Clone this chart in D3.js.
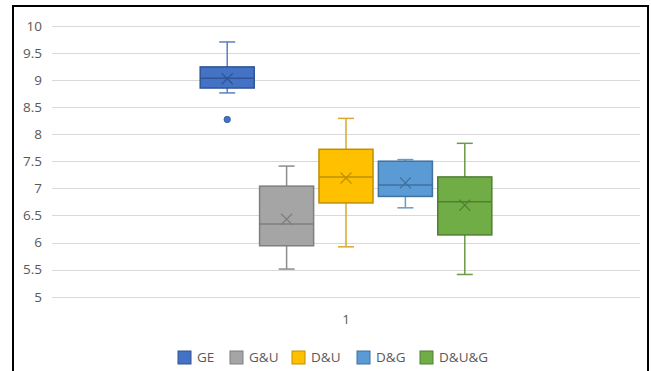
<!DOCTYPE html>
<html><head><meta charset="utf-8">
<script src="https://cdn.jsdelivr.net/npm/d3@7"></script>
<style>body{margin:0;background:#fff}svg{display:block}text{font-family:"Open Sans","Liberation Sans",sans-serif}</style>
</head><body><svg id="c" width="651" height="371"></svg>
<script>
const categories = ["1"];
const series = ["GE", "G&U", "D&U", "D&G", "D&U&G"];
const whiskerLow = [8.76, 5.51, 5.92, 6.64, 5.41];
const q1 = [8.85, 5.94, 6.73, 6.85, 6.14];
const median = [9.03, 6.34, 7.21, 7.06, 6.75];
const q3 = [9.24, 7.04, 7.72, 7.50, 7.21];
const whiskerHigh = [9.70, 7.41, 8.29, 7.53, 7.83];
const mean = [9.02, 6.43, 7.19, 7.10, 6.69];
const outliers = [[8.27], [], [], [], []];
const yTicks = [5, 5.5, 6, 6.5, 7, 7.5, 8, 8.5, 9, 9.5, 10];
const fills = ["#4472C4", "#A5A5A5", "#FFC000", "#5B9BD5", "#70AD47"];
const strokes = ["#2F5597", "#7F7F7F", "#BF9000", "#41719C", "#507E32"];
const whiskerColors = ["#5B7FC2", "#8C8C8C", "#D9A92E", "#6A9AC8", "#6A9A48"];

const svg = d3.select("#c");
const plotL = 52, plotR = 640, plotT = 25.7, plotB = 296.7;
const y = d3.scaleLinear().domain([5, 10]).range([plotB, plotT]);
const x0 = d3.scaleBand().domain(categories).range([plotL, plotR]).paddingOuter(0.49).paddingInner(0);
const x1 = d3.scaleBand().domain(series).range([0, x0.bandwidth()]).paddingInner(0.09).paddingOuter(0.045);

// border
svg.append("rect").attr("x", 13).attr("y", 6).attr("width", 635).attr("height", 380)
  .attr("fill", "none").attr("stroke", "#000").attr("stroke-width", 2);

// gridlines
svg.append("g").selectAll("line").data(yTicks).join("line")
  .attr("x1", plotL).attr("x2", plotR)
  .attr("y1", d => Math.round(y(d)) + 0.5).attr("y2", d => Math.round(y(d)) + 0.5)
  .attr("stroke", "#D9D9D9").attr("stroke-width", 1.2);

// y axis labels
const yAxis = d3.axisLeft(y).tickValues(yTicks).tickSize(0).tickPadding(0).tickFormat(d3.format("~g"));
const ga = svg.append("g").attr("transform", `translate(42,0)`).call(yAxis);
ga.select(".domain").remove();
ga.selectAll("text").attr("fill", "#595959").style("font-size", "13.5px").style("font-family", "'Open Sans','Liberation Sans',sans-serif");

// x axis label
const xAxis = d3.axisBottom(x0).tickSize(0).tickPadding(0);
const gx = svg.append("g").attr("transform", `translate(0,${plotB + 18})`).call(xAxis);
gx.select(".domain").remove();
gx.selectAll("text").attr("fill", "#595959").style("font-size", "13.5px").style("font-family", "'Open Sans','Liberation Sans',sans-serif");

const g = svg.append("g").attr("transform", `translate(${x0("1")},0)`);
series.forEach((s, i) => {
  const bx = x1(s), bw = x1.bandwidth(), cx = bx + bw / 2;
  const gg = g.append("g");
  const wc = whiskerColors[i];
  // whiskers
  gg.append("line").attr("x1", cx).attr("x2", cx).attr("y1", y(whiskerHigh[i])).attr("y2", y(q3[i])).attr("stroke", wc).attr("stroke-width", 1.5);
  gg.append("line").attr("x1", cx).attr("x2", cx).attr("y1", y(q1[i])).attr("y2", y(whiskerLow[i])).attr("stroke", wc).attr("stroke-width", 1.5);
  [whiskerHigh[i], whiskerLow[i]].forEach(v => {
    gg.append("line").attr("x1", cx - 8).attr("x2", cx + 8).attr("y1", y(v)).attr("y2", y(v)).attr("stroke", wc).attr("stroke-width", 1.5);
  });
  // box
  gg.append("rect").attr("x", bx).attr("y", y(q3[i])).attr("width", bw).attr("height", y(q1[i]) - y(q3[i]))
    .attr("fill", fills[i]).attr("stroke", strokes[i]).attr("stroke-width", 1.5);
  gg.append("line").attr("x1", bx).attr("x2", bx + bw).attr("y1", y(median[i])).attr("y2", y(median[i]))
    .attr("stroke", strokes[i]).attr("stroke-width", 1.5);
  // mean X
  const my = y(mean[i]), r = 5.5;
  gg.append("path").attr("d", `M${cx - r},${my - r}L${cx + r},${my + r}M${cx - r},${my + r}L${cx + r},${my - r}`)
    .attr("stroke", strokes[i]).attr("stroke-width", 1.3).attr("fill", "none");
  // outliers
  gg.selectAll("circle").data(outliers[i]).join("circle")
    .attr("cx", cx).attr("cy", d => y(d)).attr("r", 3.2).attr("fill", fills[i]).attr("stroke", strokes[i]).attr("stroke-width", 0.8);
});

// legend
const legendX = [178, 230, 292, 357, 420];
const leg = svg.append("g");
series.forEach((s, i) => {
  leg.append("rect").attr("x", legendX[i]).attr("y", 351).attr("width", 13).attr("height", 13)
    .attr("fill", fills[i]).attr("stroke", strokes[i]).attr("stroke-width", 1);
  leg.append("text").attr("x", legendX[i] + 19).attr("y", 362).text(s)
    .attr("fill", "#595959").style("font-size", "13.5px");
});
</script></body></html>
